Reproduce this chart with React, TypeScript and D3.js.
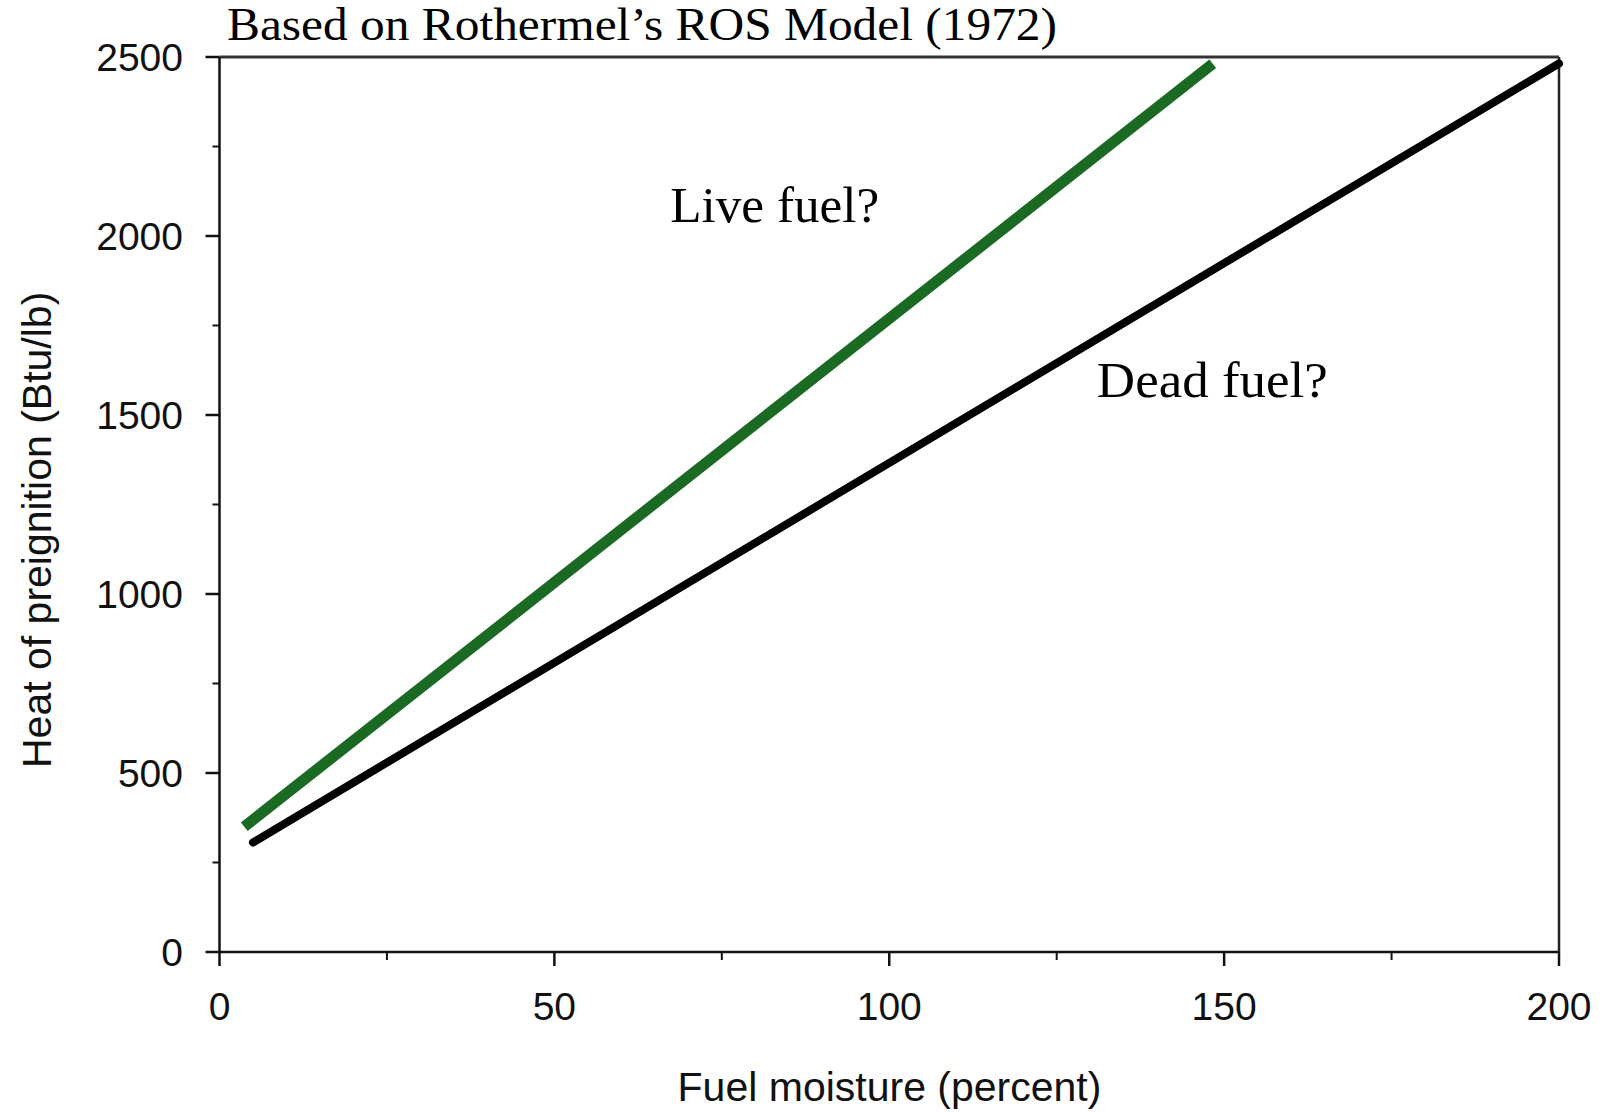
import React from "react";
import * as d3 from "d3";

const TITLE = "Based on Rothermel\u2019s ROS Model (1972)";
const X_LABEL = "Fuel moisture (percent)";
const Y_LABEL = "Heat of preignition (Btu/lb)";
const X_MAJOR = [0, 50, 100, 150, 200];
const X_MINOR = [25, 75, 125, 175];
const Y_MAJOR = [0, 500, 1000, 1500, 2000, 2500];
const Y_MINOR = [250, 750, 1250, 1750, 2250];
const LIVE_X = [3.7, 148.3];
const LIVE_Y = [350, 2481];
const DEAD_X = [5, 200];
const DEAD_Y = [306, 2482];
const NOTES = [
  { text: "Live fuel?", x: 67.3, y: 2040, len: 209 },
  { text: "Dead fuel?", x: 131.0, y: 1550, len: 231 },
];

const W = 1601;
const H = 1113;
const M = { left: 219.5, right: 1559, top: 57, bottom: 952 };

export default function App() {
  const x = d3.scaleLinear().domain([0, 200]).range([M.left, M.right]);
  const y = d3.scaleLinear().domain([0, 2500]).range([M.bottom, M.top]);
  const line = d3
    .line<[number, number]>()
    .x((d) => x(d[0]))
    .y((d) => y(d[1]));
  const live: [number, number][] = LIVE_X.map((v, i) => [v, LIVE_Y[i]]);
  const dead: [number, number][] = DEAD_X.map((v, i) => [v, DEAD_Y[i]]);
  const sans = "'Liberation Sans', Arial, sans-serif";
  const serif = "'Liberation Serif', 'Times New Roman', serif";

  return (
    <svg
      width={W}
      height={H}
      viewBox={`0 0 ${W} ${H}`}
      style={{ position: "absolute", left: 0, top: 0, display: "block", background: "#fff" }}
    >
      <rect x={0} y={0} width={W} height={H} fill="#fff" />
      {/* frame top/right */}
      <line x1={M.left} x2={M.right} y1={M.top} y2={M.top} stroke="#333" strokeWidth={3} />
      <line x1={M.right} x2={M.right} y1={M.top} y2={M.bottom} stroke="#222" strokeWidth={2.5} />
      {/* axes */}
      <line x1={M.left} x2={M.left} y1={M.top} y2={M.bottom + 1} stroke="#111" strokeWidth={2.5} />
      <line x1={M.left} x2={M.right} y1={M.bottom} y2={M.bottom} stroke="#111" strokeWidth={2.5} />
      {Y_MAJOR.map((v) => (
        <g key={"ym" + v}>
          <line x1={M.left - 14} x2={M.left} y1={y(v)} y2={y(v)} stroke="#111" strokeWidth={2.5} />
          <text
            x={183}
            y={y(v)}
            dy="0.36em"
            textAnchor="end"
            fontFamily={sans}
            fontSize={39}
            fill="#111"
          >
            {v}
          </text>
        </g>
      ))}
      {Y_MINOR.map((v) => (
        <line key={"yn" + v} x1={M.left - 7} x2={M.left} y1={y(v)} y2={y(v)} stroke="#111" strokeWidth={2} />
      ))}
      {X_MAJOR.map((v) => (
        <g key={"xm" + v}>
          <line x1={x(v)} x2={x(v)} y1={M.bottom} y2={M.bottom + 14} stroke="#111" strokeWidth={2.5} />
          <text x={x(v)} y={1020} textAnchor="middle" fontFamily={sans} fontSize={39} fill="#111">
            {v}
          </text>
        </g>
      ))}
      {X_MINOR.map((v) => (
        <line key={"xn" + v} x1={x(v)} x2={x(v)} y1={M.bottom} y2={M.bottom + 8} stroke="#111" strokeWidth={2} />
      ))}
      {/* data lines */}
      <path d={line(dead) || ""} stroke="#000" strokeWidth={8} fill="none" strokeLinecap="round" />
      <path d={line(live) || ""} stroke="#1b6a23" strokeWidth={11} fill="none" strokeLinecap="butt" />
      {/* axis titles */}
      <text x={889.5} y={1101} textAnchor="middle" fontFamily={sans} fontSize={41} fill="#111">
        {X_LABEL}
      </text>
      <text
        transform={`translate(51, 768) rotate(-90)`}
        textAnchor="start"
        fontFamily={sans}
        fontSize={41}
        fill="#111"
      >
        {Y_LABEL}
      </text>
      {/* title */}
      <text
        x={227}
        y={40}
        fontFamily={serif}
        fontSize={46}
        textLength={830}
        lengthAdjust="spacingAndGlyphs"
        fill="#000"
      >
        {TITLE}
      </text>
      {NOTES.map((n) => (
        <text
          key={n.text}
          x={x(n.x)}
          y={y(n.y)}
          fontFamily={serif}
          fontSize={50}
          textLength={n.len}
          lengthAdjust="spacingAndGlyphs"
          fill="#000"
        >
          {n.text}
        </text>
      ))}
    </svg>
  );
}
